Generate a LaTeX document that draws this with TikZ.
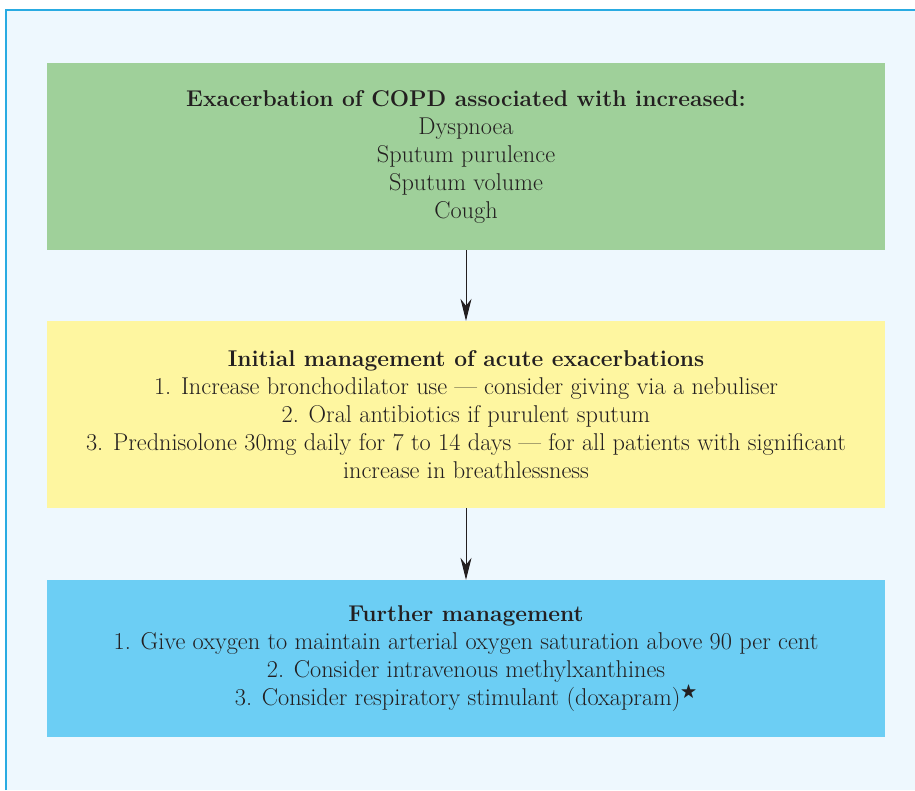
\documentclass[tikz,border=0pt]{standalone}
\usepackage{amsmath}
\usepackage{amssymb}
\usepackage{fontspec}
\usetikzlibrary{arrows.meta}

\definecolor{pagebg}{HTML}{EEF8FE}
\definecolor{frameblue}{HTML}{29ABE2}
\definecolor{boxgreen}{HTML}{9FD09A}
\definecolor{boxyellow}{HTML}{FEF6A0}
\definecolor{boxblue}{HTML}{6CCEF4}
\definecolor{inkdark}{HTML}{231F20}

\newcommand{\boxhead}[1]{{\fontsize{22.8}{28}\selectfont\bfseries #1}}

\tikzset{
  stagebox/.style={rectangle,minimum width=838pt,inner sep=0pt,align=center,
    text=inkdark,font=\fontsize{24.3}{28}\selectfont},
  flowarrow/.style={draw=inkdark,line width=0.9pt,-{Stealth[length=22pt,width=11pt,inset=7pt]}}
}

\begin{document}
\begin{tikzpicture}[x=1pt,y=-1pt]

      \useasboundingbox (0,0) rectangle (915,790);
      \fill[pagebg] (6,10) rectangle (915,790);
      \draw[frameblue,line width=1.5pt] (6,790) -- (6,10) -- (915,10);

      \begin{scope}[every node/.style={stagebox}]
        \node[fill=boxgreen,minimum height=187pt] (symptoms) at (466,156.5)
          {\boxhead{Exacerbation of COPD associated with increased:}\\
           Dyspnoea\\
           Sputum purulence\\
           Sputum volume\\
           Cough};
        \node[fill=boxyellow,minimum height=187pt] (initial) at (466,414.5)
          {\boxhead{Initial management of acute exacerbations}\\
           1. Increase bronchodilator use --- consider giving via a nebuliser\\
           2. Oral antibiotics if purulent sputum\\
           3. Prednisolone 30mg daily for 7 to 14 days --- for all patients with significant\\
           increase in breathlessness};
        \node[fill=boxblue,minimum height=157pt] (further) at (466,658.5)
          {\boxhead{Further management}\\
           1. Give oxygen to maintain arterial oxygen saturation above 90 per cent\\
           2. Consider intravenous methylxanthines\\
           3. Consider respiratory stimulant (doxapram)$^{\bigstar}$};
      \end{scope}

      \path[flowarrow] (symptoms) -- (initial);
      \path[flowarrow] (initial) -- (further);

    \end{tikzpicture}
\end{document}
